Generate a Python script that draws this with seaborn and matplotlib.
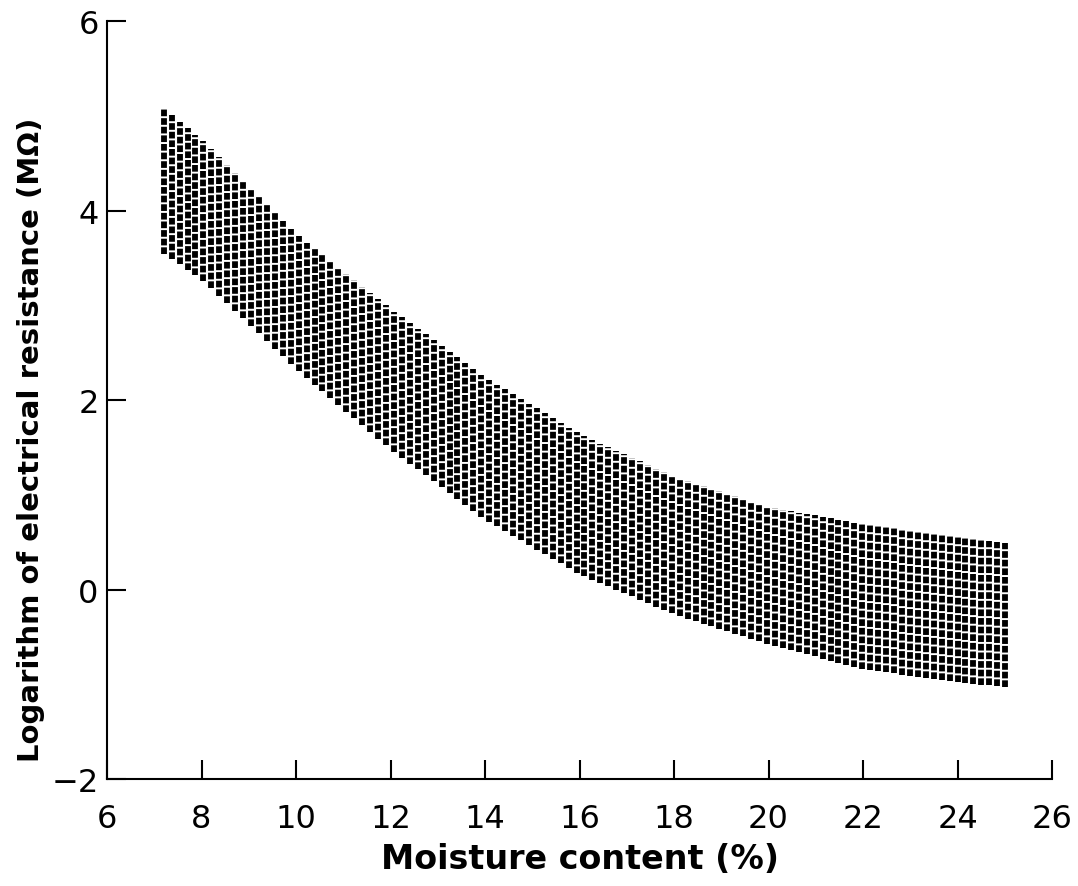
import matplotlib
matplotlib.use('Agg')
import matplotlib.pyplot as plt
import seaborn as sns
import numpy as np

sns.set_theme(style='ticks')
plt.rcParams['font.family'] = ['DejaVu Sans']
plt.rcParams['lines.scale_dashes'] = False

# band edges
moisture = [7.2, 8, 10, 12, 14, 16, 18, 20, 22, 24, 25.1]
upper = [5.07, 4.75, 3.75, 2.96, 2.24, 1.64, 1.19, 0.87, 0.69, 0.55, 0.48]
lower = [3.54, 3.28, 2.33, 1.48, 0.74, 0.16, -0.26, -0.58, -0.84, -0.98, -1.03]

xticks = [6, 8, 10, 12, 14, 16, 18, 20, 22, 24, 26]
yticks = [-2, 0, 2, 4, 6]
ytick_labels = ['\u22122', '0', '2', '4', '6']

fig = plt.figure(figsize=(10.78, 8.87), dpi=100)
ax = fig.add_axes([0.0993, 0.1206, 0.8766, 0.8546])

# the band is drawn as columns of short dashes, like the printed texture
cols = np.arange(moisture[0], moisture[-1] + 0.01, 0.168)
up = np.interp(cols, moisture, upper)
lo = np.interp(cols, moisture, lower)
ax.vlines(cols, lo, up, colors='black', linewidth=4.2,
          linestyles=[(0, (4.8, 1.4))])

ax.set_xlim(6, 26)
ax.set_ylim(-2, 6)
ax.set_xticks(xticks)
ax.set_yticks(yticks)
ax.set_yticklabels(ytick_labels)
ax.tick_params(direction='in', length=14, width=1.5, labelsize=23,
               colors='black')
ax.tick_params(axis='x', pad=17)
ax.tick_params(axis='y', pad=6)
for s in ['top', 'right']:
    ax.spines[s].set_visible(False)
for s in ['left', 'bottom']:
    ax.spines[s].set_linewidth(1.5)
    ax.spines[s].set_color('black')

ax.set_xlabel('Moisture content (%)', fontsize=24, fontweight='bold',
              color='black', labelpad=6)
ax.set_ylabel('Logarithm of electrical resistance (M\u03a9)', fontsize=21,
              fontweight='bold', color='black')
ax.yaxis.set_label_coords(-0.066, 0.449)

fig.savefig('out.png', dpi=100, facecolor='white')
